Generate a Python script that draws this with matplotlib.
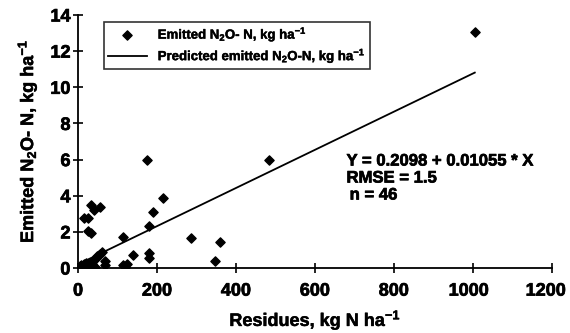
import matplotlib
matplotlib.use('Agg')
import matplotlib.pyplot as plt
import matplotlib.patheffects as pe
import matplotlib.transforms as mtransforms
import numpy as np

plt.rcParams['font.family'] = 'Liberation Sans'
plt.rcParams['font.weight'] = 'bold'
plt.rcParams['axes.labelweight'] = 'bold'
plt.rcParams['mathtext.fontset'] = 'custom'
plt.rcParams['mathtext.rm'] = 'Liberation Sans:bold'
plt.rcParams['mathtext.default'] = 'rm'

# residues (kg N/ha) vs emitted N2O-N (kg/ha)
residues = [1005, 484, 175, 214, 189, 180, 114, 287, 359, 347,
            180, 180, 139, 114, 124, 118, 14, 26, 26, 33,
            32, 41, 56, 69, 69, 52, 45, 40, 35, 38,
            5, 8, 10, 12, 3, 20, 15, 48, 55, 6,
            2, 30, 60, 18, 25, 42]
emitted = [13.05, 6.0, 6.0, 3.9, 3.1, 2.3, 1.72, 1.65, 1.42, 0.4,
           0.85, 0.55, 0.75, 0.15, 0.2, 0.05, 2.75, 2.75, 2.05, 1.92,
           3.5, 3.2, 3.4, 0.38, 0.15, 0.75, 0.55, 0.45, 0.25, 0.0,
           0.05, 0.15, 0.0, 0.1, 0.0, 0.3, 0.2, 0.65, 0.8, 0.1,
           0.02, 0.3, 0.9, 0.05, 0.15, 0.05]
intercept = 0.2098
slope = 0.01055
xticks = [0, 200, 400, 600, 800, 1000, 1200]
yticks = [0, 2, 4, 6, 8, 10, 12, 14]

heavy = [pe.withStroke(linewidth=0.5, foreground='black')]
medium = [pe.withStroke(linewidth=0.35, foreground='black')]

fig = plt.figure(figsize=(5.7, 3.33), dpi=100)
ax = fig.add_axes([0.137, 0.195, 0.831, 0.76])

ax.scatter(residues, emitted, marker='D', s=22, color='black', zorder=3,
           label='Emitted N$_2$O- N, kg ha$^{-1}$')
xl = np.array([0, max(residues)])
ax.plot(xl, intercept + slope * xl, color='black', lw=1.3,
        label='Predicted emitted N$_2$O-N, kg ha$^{-1}$')

ax.set_xlim(0, 1200)
ax.set_ylim(0, 14)
ax.set_xticks(xticks, labels=[str(t) for t in xticks], fontsize=13,
              fontweight='bold')
ax.set_yticks(yticks, labels=[str(t) for t in yticks], fontsize=13,
              fontweight='bold')
for s in ['top', 'right']:
    ax.spines[s].set_visible(False)
for s in ['left', 'bottom']:
    ax.spines[s].set_linewidth(1.3)
ax.tick_params(direction='inout', length=7, width=1.2, pad=2)
ax.tick_params(axis='x', pad=7)

for lab in ax.get_xticklabels() + ax.get_yticklabels():
    lab.set_path_effects(heavy)
# the four-digit labels sit a little left of their ticks, as in the original
for lab, dx in zip(ax.get_xticklabels()[-2:], [-4, -6]):
    lab.set_transform(lab.get_transform() +
                      mtransforms.ScaledTranslation(dx / 100, 0, fig.dpi_scale_trans))

xlab = ax.set_xlabel('Residues, kg N ha$^{-1}$', fontsize=13, fontweight='bold', labelpad=6)
ylab = ax.set_ylabel('Emitted N$_2$O- N, kg ha$^{-1}$', fontsize=13, fontweight='bold', labelpad=8)
xlab.set_path_effects(medium)
ylab.set_path_effects(medium)

for txt, xx, yy in [('Y = 0.2098 + 0.01055 * X', 680, 5.92),
                    ('RMSE = 1.5', 680, 4.98),
                    ('n = 46', 688, 4.04)]:
    ax.text(xx, yy, txt, fontsize=12, va='center', path_effects=heavy)

leg = ax.legend(loc='upper left', bbox_to_anchor=(0.04, 1.0), fontsize=9.5,
                frameon=True, fancybox=False, edgecolor='black',
                handlelength=3, borderpad=0.3, labelspacing=0.25)
leg.get_frame().set_linewidth(1.2)
for t in leg.get_texts():
    t.set_path_effects([pe.withStroke(linewidth=0.3, foreground='black')])

fig.savefig('out.png', dpi=100)
